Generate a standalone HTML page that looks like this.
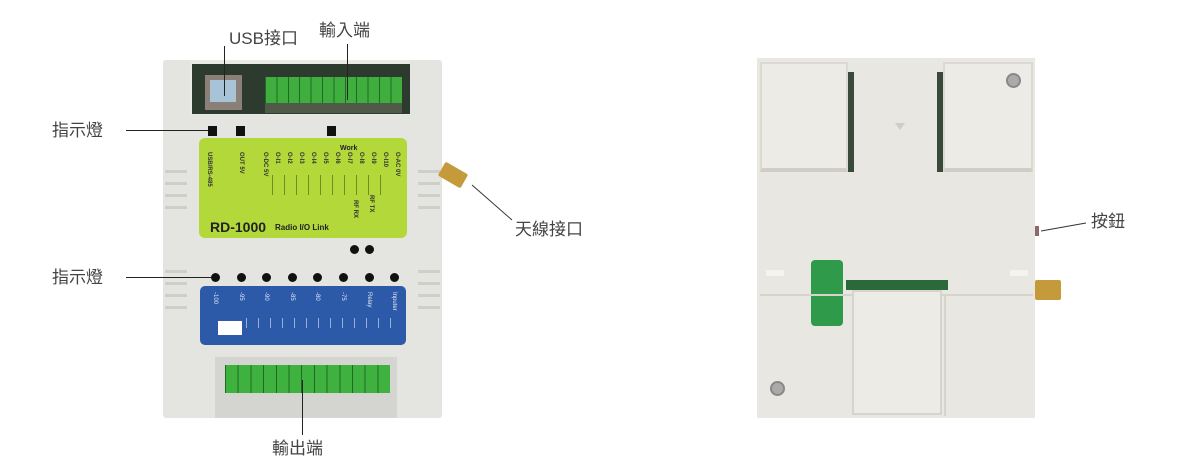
<!DOCTYPE html>
<html><head><meta charset="utf-8"><style>
body{margin:0;width:1200px;height:468px;background:#fff;position:relative;overflow:hidden;font-family:"Liberation Sans","Noto Sans CJK TC",sans-serif}
div{position:absolute;box-sizing:border-box}
.lbl{font-size:17px;color:#444;white-space:nowrap;line-height:18px}
.ln{background:#222}
.dot{width:9px;height:9px;border-radius:50%;background:#111}
.sq{width:9px;height:10px;background:#111}
.rib{height:3px;background:#cfcfca}
.vt{writing-mode:vertical-rl;font-size:6px;font-weight:bold;color:#333;white-space:nowrap}
.vw{writing-mode:vertical-rl;font-size:6px;color:#dfe8f5;white-space:nowrap}
</style></head><body>
<!-- left device -->
<div style="left:163px;top:60px;width:279px;height:358px;background:#e4e4e0;border-radius:3px"></div>
<div style="left:190px;top:60px;width:220px;height:55px;background:#e9e9e6"></div>
<div style="left:192px;top:64px;width:218px;height:50px;background:#2d3a2e"></div>
<div style="left:205px;top:75px;width:37px;height:35px;background:#8a8078"></div>
<div style="left:210px;top:80px;width:26px;height:22px;background:#a8c2d8"></div>
<div style="left:265px;top:77px;width:137px;height:26px;background:#3fae3f"></div>
<div style="left:265px;top:77px;width:137px;height:26px;background:repeating-linear-gradient(90deg,#1f6a22 0 1px,transparent 1px 11.4px)"></div>
<div style="left:265px;top:103px;width:137px;height:10px;background:#4f5a48"></div>
<div class="rib" style="left:165px;top:170px;width:22px;box-shadow:0 12px 0 #cfcfca,0 24px 0 #cfcfca,0 36px 0 #cfcfca,0 100px 0 #cfcfca,0 112px 0 #cfcfca,0 124px 0 #cfcfca,0 136px 0 #cfcfca"></div>
<div class="rib" style="left:418px;top:170px;width:22px;box-shadow:0 12px 0 #cfcfca,0 24px 0 #cfcfca,0 36px 0 #cfcfca,0 100px 0 #cfcfca,0 112px 0 #cfcfca,0 124px 0 #cfcfca,0 136px 0 #cfcfca"></div>
<div class="sq" style="left:208px;top:126px"></div>
<div class="sq" style="left:236px;top:126px"></div>
<div class="sq" style="left:327px;top:126px"></div>
<div style="left:199px;top:138px;width:208px;height:100px;background:#b3d83a;border-radius:6px"></div>
<div class="vt" style="left:206px;top:152px">USB/RS-485</div>
<div class="vt" style="left:238px;top:152px">OUT 5V</div>
<div class="vt" style="left:262px;top:152px">O-DC 5V</div>
<div class="vt" style="left:274px;top:152px">O-I1</div><div class="vt" style="left:286px;top:152px">O-I2</div><div class="vt" style="left:298px;top:152px">O-I3</div><div class="vt" style="left:310px;top:152px">O-I4</div><div class="vt" style="left:322px;top:152px">O-I5</div><div class="vt" style="left:334px;top:152px">O-I6</div><div class="vt" style="left:346px;top:152px">O-I7</div><div class="vt" style="left:358px;top:152px">O-I8</div><div class="vt" style="left:370px;top:152px">O-I9</div><div class="vt" style="left:382px;top:152px">O-I10</div><div class="vt" style="left:394px;top:152px">O-AC 0V</div>
<div style="left:272px;top:175px;width:118px;height:20px;background:repeating-linear-gradient(90deg,#556b1e 0 1px,transparent 1px 12px);opacity:.7"></div>
<div class="vt" style="left:352px;top:200px">RF RX</div>
<div class="vt" style="left:368px;top:195px">RF TX</div>
<div style="left:340px;top:145px;font-size:7px;font-weight:bold;color:#222">Work</div>
<div style="left:210px;top:219px;font-size:14px;font-weight:bold;color:#222">RD-1000</div>
<div style="left:275px;top:223px;font-size:8px;font-weight:bold;color:#222">Radio I/O Link</div>
<div class="dot" style="left:350px;top:245px"></div><div class="dot" style="left:365px;top:245px"></div>
<div class="dot" style="left:211px;top:273px"></div><div class="dot" style="left:237px;top:273px"></div><div class="dot" style="left:262px;top:273px"></div><div class="dot" style="left:288px;top:273px"></div><div class="dot" style="left:313px;top:273px"></div><div class="dot" style="left:339px;top:273px"></div><div class="dot" style="left:365px;top:273px"></div><div class="dot" style="left:390px;top:273px"></div>
<div style="left:200px;top:286px;width:206px;height:59px;background:#2c5aa8;border-radius:5px"></div>
<div class="vw" style="left:212px;top:292px">-100</div><div class="vw" style="left:238px;top:292px">-95</div><div class="vw" style="left:263px;top:292px">-90</div><div class="vw" style="left:289px;top:292px">-85</div><div class="vw" style="left:314px;top:292px">-80</div><div class="vw" style="left:340px;top:292px">-75</div><div class="vw" style="left:366px;top:292px">Relay</div><div class="vw" style="left:391px;top:292px">Inputer</div>
<div style="left:246px;top:318px;width:150px;height:10px;background:repeating-linear-gradient(90deg,#dfe8f5 0 1px,transparent 1px 12px);opacity:.6"></div>
<div style="left:218px;top:321px;width:24px;height:14px;background:#fff"></div>
<div style="left:215px;top:357px;width:182px;height:61px;background:#d4d4d0"></div>
<div style="left:225px;top:365px;width:165px;height:28px;background:#3fb13f"></div>
<div style="left:225px;top:365px;width:165px;height:28px;background:repeating-linear-gradient(90deg,#1f6a22 0 1px,transparent 1px 12.7px)"></div>
<div style="left:440px;top:167px;width:26px;height:16px;background:#c49a3a;border-radius:2px;transform:rotate(30deg)"></div>

<!-- right device -->
<div style="left:757px;top:58px;width:278px;height:360px;background:#e9e7e1"></div>
<div style="left:760px;top:62px;width:88px;height:110px;background:#ecebe6;border:2px solid #dcdad3;border-bottom:4px solid #cfcdc6"></div>
<div style="left:848px;top:72px;width:6px;height:100px;background:#3a4a3a"></div>
<div style="left:937px;top:72px;width:6px;height:100px;background:#3a4a3a"></div>
<div style="left:943px;top:62px;width:90px;height:110px;background:#ecebe6;border:2px solid #dcdad3;border-bottom:4px solid #cfcdc6"></div>
<div style="left:895px;top:123px;width:0;height:0;border-left:5px solid transparent;border-right:5px solid transparent;border-top:7px solid #cfcdc6"></div>
<div style="left:1006px;top:73px;width:15px;height:15px;border-radius:50%;background:#aaa;border:2px solid #888"></div>
<div style="left:770px;top:381px;width:15px;height:15px;border-radius:50%;background:#aaa;border:2px solid #888"></div>
<div style="left:811px;top:260px;width:32px;height:66px;background:#2f9a4a;border-radius:4px"></div>
<div style="left:846px;top:280px;width:102px;height:10px;background:#2a6a3a"></div>
<div style="left:760px;top:294px;width:273px;height:2px;background:#d6d4cd"></div>
<div style="left:852px;top:290px;width:90px;height:125px;border:2px solid #d6d4cd;background:#ecebe6"></div>
<div style="left:944px;top:296px;width:88px;height:120px;border-left:2px solid #d6d4cd"></div>
<div style="left:766px;top:270px;width:18px;height:6px;background:#f4f3ef"></div>
<div style="left:1010px;top:270px;width:18px;height:6px;background:#f4f3ef"></div>
<div style="left:1035px;top:226px;width:4px;height:10px;background:#8a6a6a"></div>
<div style="left:1035px;top:280px;width:26px;height:20px;background:#c49a3a;border-radius:2px"></div>

<!-- labels -->
<div class="lbl" style="left:229px;top:30px">USB接口</div>
<div class="ln" style="left:224px;top:46px;width:1px;height:50px"></div>
<div class="lbl" style="left:319px;top:22px">輸入端</div>
<div class="ln" style="left:347px;top:44px;width:1px;height:56px"></div>
<div class="lbl" style="left:52px;top:122px">指示燈</div>
<div class="ln" style="left:126px;top:130px;width:82px;height:1px"></div>
<div class="lbl" style="left:52px;top:269px">指示燈</div>
<div class="ln" style="left:126px;top:277px;width:86px;height:1px"></div>
<div class="lbl" style="left:515px;top:221px">天線接口</div>
<svg style="position:absolute;left:0;top:0" width="1200" height="468"><line x1="472" y1="185" x2="512" y2="220" stroke="#333" stroke-width="1"/><line x1="1041" y1="231" x2="1086" y2="223" stroke="#333" stroke-width="1"/></svg>
<div class="lbl" style="left:272px;top:440px">輸出端</div>
<div class="ln" style="left:302px;top:380px;width:1px;height:55px"></div>
<div class="lbl" style="left:1091px;top:213px">按鈕</div>
</body></html>
